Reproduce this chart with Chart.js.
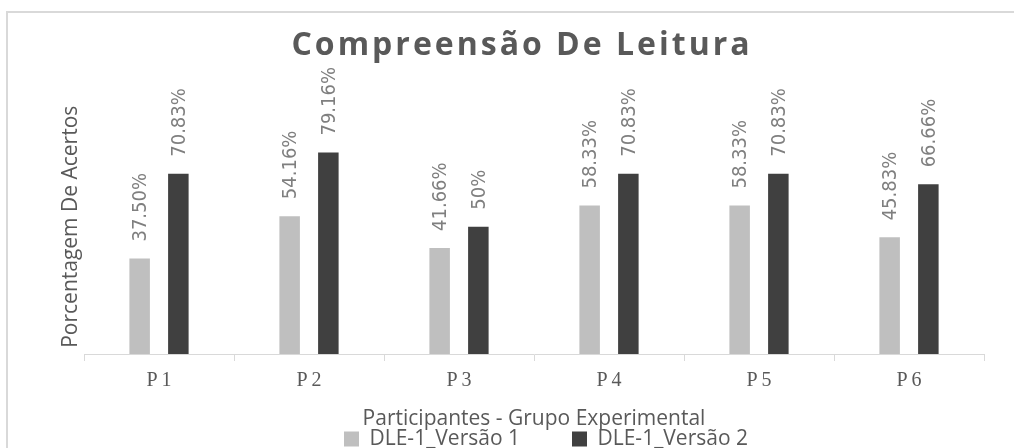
<!DOCTYPE html>
<html>
<head>
<meta charset="utf-8">
<title>Compreensão De Leitura</title>
<script src="https://cdn.jsdelivr.net/npm/chart.js@4"></script>
<style>
  body { margin: 0; background: #fff; overflow: hidden; }
  .frame { position: absolute; left: 6px; top: 11px; width: 1100px; height: 500px; border: 2px solid #d9d9d9; box-sizing: border-box; }
  #chart { position: absolute; left: 0; top: 0; }
</style>
</head>
<body>
<div class="frame"></div>
<canvas id="chart" width="1014" height="448"></canvas>
<script>
const categories = ['P1', 'P2', 'P3', 'P4', 'P5', 'P6'];
const versao1 = [37.50, 54.16, 41.66, 58.33, 58.33, 45.83];
const versao2 = [70.83, 79.16, 50, 70.83, 70.83, 66.66];
const seriesNames = ['DLE-1_Versão 1', 'DLE-1_Versão 2'];

const textGrey = '#595959';
const sans = '"Open Sans", "Noto Sans", sans-serif';

// percent text like Excel: 37.50% but 50%
function fmt(v) {
    return (Number.isInteger(v) ? v : v.toFixed(2)) + '%';
}

const chartTitle = {
    id: 'chartTitle',
    afterDraw(chart) {
        const ctx = chart.ctx;
        ctx.save();
        ctx.font = 'bold 32px ' + sans;
        ctx.letterSpacing = '3px';
        ctx.fillStyle = textGrey;
        ctx.textAlign = 'center';
        ctx.textBaseline = 'middle';
        ctx.fillText('Compreensão De Leitura', 522, 46);
        ctx.restore();
    }
};

const barLabels = {
    id: 'barLabels',
    afterDatasetsDraw(chart) {
        const ctx = chart.ctx;
        ctx.save();
        ctx.font = '20px "Liberation Sans Narrow", "DejaVu Sans Condensed", sans-serif';
        ctx.fillStyle = '#7f7f7f';
        ctx.textAlign = 'left';
        ctx.textBaseline = 'middle';
        chart.data.datasets.forEach((ds, i) => {
            chart.getDatasetMeta(i).data.forEach((bar, j) => {
                ctx.save();
                ctx.translate(bar.x + 1.5, bar.y - 17);
                ctx.rotate(-Math.PI / 2);
                ctx.fillText(fmt(ds.data[j]), 0, 0);
                ctx.restore();
            });
        });
        ctx.restore();
    }
};

// nudge legend row to the right, Excel centres it a bit off
const legendShift = {
    id: 'legendShift',
    afterLayout(chart) {
        chart.legend.left += 12;
        chart.legend.right += 12;
    }
};

new Chart(document.getElementById('chart'), {
    type: 'bar',
    data: {
        labels: categories,
        datasets: [
            { label: seriesNames[0], data: versao1, backgroundColor: '#bfbfbf' },
            { label: seriesNames[1], data: versao2, backgroundColor: '#404040' }
        ]
    },
    options: {
        responsive: false,
        animation: false,
        categoryPercentage: 0.516,
        barPercentage: 0.53,
        layout: { padding: { top: 99.5, right: 30, left: 84, bottom: -11.5 } },
        plugins: {
            title: { display: false },
            tooltip: { enabled: false },
            legend: {
                position: 'bottom',
                labels: {
                    color: textGrey,
                    font: { family: sans, size: 21 },
                    boxWidth: 15,
                    boxHeight: 15,
                    padding: 10,
                    generateLabels(chart) {
                        const items = Chart.defaults.plugins.legend.labels.generateLabels(chart);
                        items.forEach((it, i) => {
                            it.lineWidth = 0;
                            if (i < items.length - 1) it.text += '\u2003\u2003';
                        });
                        return items;
                    }
                }
            }
        },
        scales: {
            x: {
                grid: { offset: true, drawOnChartArea: false, color: '#d9d9d9', tickLength: 7 },
                border: { color: '#d9d9d9', width: 1 },
                ticks: {
                    color: textGrey,
                    padding: 8,
                    font: { family: '"Liberation Serif", "DejaVu Serif", serif', size: 20 },
                    callback(value) {
                        return this.getLabelForValue(value).split('').join('\u2009');
                    }
                },
                title: {
                    display: true,
                    text: 'Participantes - Grupo Experimental',
                    color: textGrey,
                    font: { family: sans, size: 21 },
                    padding: { top: 0, bottom: -12.8 }
                },
                afterFit(scale) { scale.height = 64.5; }
            },
            y: {
                min: 0,
                max: 100,
                ticks: { display: false },
                grid: { display: false, drawTicks: false },
                border: { display: false },
                title: {
                    display: true,
                    text: 'Porcentagem De Acertos',
                    color: textGrey,
                    font: { family: sans, size: 21 },
                    padding: { top: -25.9, bottom: 0 }
                },
                afterFit(scale) { scale.width = 0; }
            }
        }
    },
    plugins: [chartTitle, barLabels, legendShift]
});
</script>
</body>
</html>
